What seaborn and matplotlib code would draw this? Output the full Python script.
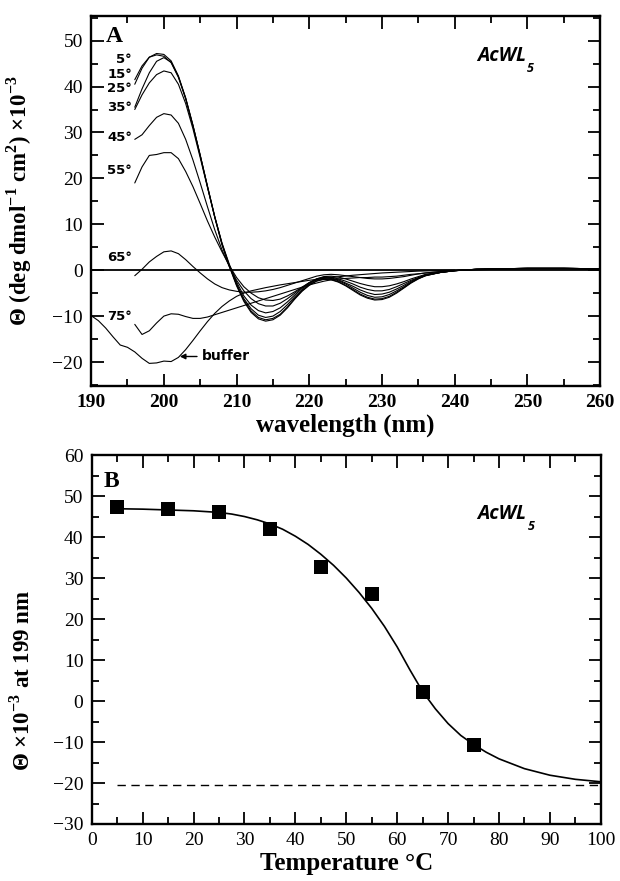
import numpy as np
import pandas as pd
import matplotlib
matplotlib.use("Agg")
import matplotlib.pyplot as plt
import seaborn as sns
from matplotlib.ticker import MultipleLocator

# ==== DATA: panel A, CD spectra at each temperature ====
wavelength = [196, 197, 198, 199, 200, 201, 202, 203, 204, 205, 206, 207, 208, 209, 210,
              211, 212, 213, 214, 215, 216, 217, 218, 219, 220, 221, 222, 223, 224, 225,
              226, 227, 228, 229, 230, 231, 232, 233, 234, 235, 236, 238, 240, 243, 246,
              250, 255, 260]

theta_5 = [40.5, 44.0, 46.4, 47.2, 47.0, 45.6, 42.3, 37.5, 31.5, 25.0, 18.2, 11.5, 5.5, 0.8, -3.4,
           -6.8, -9.2, -10.6, -11.1, -10.8, -9.8, -8.2, -6.3, -4.6, -3.3, -2.4, -2.0, -2.1, -2.6, -3.4,
           -4.4, -5.4, -6.1, -6.5, -6.4, -5.9, -5.0, -3.9, -2.8, -1.9, -1.2, -0.5, -0.1, 0.2, 0.3,
           0.4, 0.4, 0.3]
theta_15 = [41.5, 44.5, 46.4, 46.9, 46.6, 45.2, 42.0, 37.3, 31.4, 25.0, 18.3, 11.7, 5.7, 1.0, -3.2,
            -6.5, -8.9, -10.3, -10.8, -10.5, -9.6, -8.0, -6.1, -4.5, -3.2, -2.3, -1.9, -2.0, -2.5, -3.3,
            -4.2, -5.2, -5.9, -6.3, -6.2, -5.7, -4.8, -3.8, -2.7, -1.8, -1.2, -0.5, -0.1, 0.2, 0.3,
            0.4, 0.4, 0.3]
theta_25 = [35.5, 39.5, 43.0, 45.5, 46.3, 45.3, 42.2, 37.5, 31.6, 25.0, 18.2, 11.6, 5.7, 1.0, -3.0,
            -6.2, -8.4, -9.8, -10.3, -10.0, -9.0, -7.5, -5.8, -4.3, -3.0, -2.1, -1.7, -1.8, -2.3, -3.0,
            -3.9, -4.8, -5.5, -5.9, -5.8, -5.3, -4.5, -3.6, -2.6, -1.8, -1.1, -0.5, -0.1, 0.2, 0.3,
            0.4, 0.4, 0.3]
theta_35 = [35.0, 38.2, 40.8, 42.6, 43.4, 43.0, 40.5, 36.3, 30.8, 24.5, 18.0, 11.6, 5.9, 1.3, -2.6,
            -5.6, -7.6, -8.8, -9.3, -9.0, -8.2, -6.9, -5.4, -4.0, -2.8, -2.0, -1.6, -1.7, -2.1, -2.8,
            -3.5, -4.3, -4.9, -5.3, -5.2, -4.8, -4.1, -3.3, -2.4, -1.7, -1.1, -0.5, -0.1, 0.2, 0.3,
            0.4, 0.4, 0.3]
theta_45 = [28.5, 29.5, 31.5, 33.3, 34.1, 33.8, 32.0, 28.5, 24.0, 19.0, 13.8, 8.8, 4.4, 0.8, -2.2,
            -4.5, -6.2, -7.3, -7.8, -7.8, -7.2, -6.2, -5.0, -3.8, -2.7, -1.9, -1.5, -1.5, -1.9, -2.4,
            -3.0, -3.7, -4.2, -4.5, -4.5, -4.2, -3.6, -2.9, -2.2, -1.6, -1.0, -0.5, -0.1, 0.2, 0.3,
            0.4, 0.4, 0.3]
theta_55 = [19.0, 22.5, 25.0, 25.2, 25.6, 25.6, 24.3, 21.5, 18.2, 14.5, 10.7, 7.2, 4.0, 1.0, -1.6,
            -3.6, -5.0, -6.0, -6.5, -6.6, -6.3, -5.6, -4.7, -3.7, -2.7, -1.9, -1.4, -1.3, -1.5, -1.9,
            -2.4, -2.9, -3.3, -3.6, -3.6, -3.4, -3.0, -2.5, -1.9, -1.4, -0.9, -0.4, -0.1, 0.2, 0.3,
            0.4, 0.4, 0.3]
theta_65 = [-1.2, 0.2, 1.8, 3.0, 4.0, 4.2, 3.6, 2.3, 0.8, -0.6, -1.9, -3.0, -3.8, -4.3, -4.6,
            -4.8, -4.8, -4.7, -4.5, -4.2, -3.8, -3.3, -2.8, -2.3, -1.8, -1.3, -1.0, -0.9, -1.0, -1.2,
            -1.4, -1.6, -1.8, -1.9, -1.9, -1.8, -1.6, -1.4, -1.1, -0.8, -0.6, -0.3, -0.1, 0.1, 0.2,
            0.3, 0.3, 0.2]
theta_75 = [-11.8, -14.0, -13.2, -11.5, -10.0, -9.5, -9.6, -10.1, -10.5, -10.5, -10.2, -9.7, -9.2, -8.7, -8.2,
            -7.7, -7.2, -6.7, -6.2, -5.7, -5.2, -4.7, -4.2, -3.7, -3.2, -2.8, -2.4, -2.1, -1.9, -1.8,
            -1.7, -1.6, -1.6, -1.5, -1.5, -1.4, -1.3, -1.1, -0.9, -0.8, -0.6, -0.3, -0.1, 0.1, 0.2,
            0.3, 0.3, 0.2]

temps = [5, 15, 25, 35, 45, 55, 65, 75]
spectra = [theta_5, theta_15, theta_25, theta_35, theta_45, theta_55, theta_65, theta_75]

buffer_wl = [190, 191, 192, 193, 194, 195, 196, 197, 198, 199, 200, 201, 202, 203, 204,
             205, 206, 207, 208, 209, 210, 211, 212, 214, 216, 218, 220, 223, 226, 230,
             235, 240]
buffer_theta = [-9.9, -11.0, -12.6, -14.5, -16.3, -16.8, -17.8, -19.2, -20.3, -20.2, -19.8, -19.9, -19.0, -17.3, -15.3,
                -13.2, -11.2, -9.4, -7.9, -6.7, -5.7, -5.0, -4.5, -3.8, -3.2, -2.7, -2.2, -1.6, -1.1, -0.6,
                -0.2, 0.0]

# labels beside the curves
temp_labels = ["5°", "15°", "25°", "35°", "45°", "55°", "65°", "75°"]
label_y = [45.9, 42.6, 39.6, 35.4, 28.9, 21.7, 2.8, -10.0]

# ==== DATA: panel B, melting curve at 199 nm ====
melt_T = [5, 15, 25, 35, 45, 55, 65, 75]
melt_theta = [47.3, 46.8, 46.0, 42.0, 32.8, 26.0, 2.2, -10.7]

fit_T = [5, 10, 15, 20, 25, 27.5, 30, 32.5, 35, 37.5, 40, 42.5, 45, 47.5, 50, 52.5, 55, 57.5,
         60, 62.5, 65, 67.5, 70, 72.5, 75, 77.5, 80, 85, 90, 95, 100]
fit_theta = [46.9, 46.8, 46.6, 46.4, 46.0, 45.6, 45.0, 44.2, 43.2, 41.9, 40.2, 38.2, 35.8, 33.1, 30.0, 26.5, 22.6, 18.2,
             13.2, 7.6, 2.3, -1.9, -5.5, -8.4, -10.6, -12.5, -14.1, -16.5, -18.1, -19.1, -19.7]

unfolded_level = -20.5

# ==== BUILD TABLES ====
spec_df = pd.DataFrame({
    "wavelength": np.tile(wavelength, len(temps)),
    "theta": np.concatenate(spectra),
    "temp": np.repeat(temps, len(wavelength)),
})
buf_df = pd.DataFrame({"wavelength": buffer_wl, "theta": buffer_theta})
pts_df = pd.DataFrame({"T": melt_T, "theta": melt_theta})
fit_df = pd.DataFrame({"T": fit_T, "theta": fit_theta})

# ==== STYLE ====
sns.set_style("ticks")
plt.rcParams["font.family"] = ["Liberation Serif", "DejaVu Serif"]
plt.rcParams["mathtext.fontset"] = "custom"
plt.rcParams["mathtext.rm"] = "Liberation Serif"
plt.rcParams["mathtext.bf"] = "Liberation Serif:bold"
for key in ["text.color", "axes.labelcolor", "xtick.color", "ytick.color"]:
    plt.rcParams[key] = "black"

fig = plt.figure(figsize=(6.2, 8.81), dpi=100)
axA = fig.add_axes([0.147, 0.562, 0.821, 0.420])
axB = fig.add_axes([0.148, 0.0647, 0.821, 0.4188])

def style_axes(ax):
    for s in ax.spines.values():
        s.set_linewidth(1.7)
        s.set_color("black")
    ax.tick_params(which="both", direction="in", top=True, right=True, width=1.3,
                   labelsize=14, colors="black", pad=6)
    ax.tick_params(which="major", length=9)
    ax.tick_params(which="minor", length=5)

def tag(ax, x, y):
    # AcWL with subscript 5
    t = ax.text(x, y, "AcWL", ha="left", va="center", fontsize=14, fontweight="bold",
                fontstyle="italic", family=["Open Sans", "DejaVu Sans"])
    ax.annotate("5", xy=(1, 0), xycoords=t, xytext=(0.5, -2), textcoords="offset points",
                ha="left", va="center", fontsize=9, fontweight="bold", fontstyle="italic",
                family=["Open Sans", "DejaVu Sans"])

# ==== PANEL A ====
sns.lineplot(data=spec_df, x="wavelength", y="theta", units="temp", estimator=None,
             color="black", lw=0.8, sort=False, ax=axA)
sns.lineplot(data=buf_df, x="wavelength", y="theta", color="black", lw=0.8, sort=False, ax=axA)
axA.axhline(0, color="black", lw=1.3)
axA.set_xlim(190, 260)
axA.set_ylim(-25.2, 55.4)
axA.xaxis.set_major_locator(MultipleLocator(10))
axA.xaxis.set_minor_locator(MultipleLocator(5))
axA.yaxis.set_major_locator(MultipleLocator(10))
axA.yaxis.set_minor_locator(MultipleLocator(5))
style_axes(axA)
for t in axA.get_xticklabels():
    t.set_fontweight("bold")
axA.set_xlabel("wavelength (nm)", fontsize=18, fontweight="bold", labelpad=2)
axA.set_ylabel(r"Θ (deg dmol$^{\mathbf{-1}}$ cm$^{\mathbf{2}}$) ×10$^{\mathbf{-3}}$",
               fontsize=16.5, fontweight="bold")
axA.yaxis.set_label_coords(-0.112, 0.50)

for lab, yv in zip(temp_labels, label_y):
    axA.text(195.6, yv, lab, ha="right", va="center", fontsize=9.5, fontweight="bold",
             family=["DejaVu Sans"])
axA.text(192.0, 50.8, "A", ha="left", va="center", fontsize=17, fontweight="bold")
tag(axA, 243.1, 46.7)
axA.annotate("buffer", xy=(202.2, -18.8), xytext=(205.2, -18.8), ha="left", va="center",
             fontsize=10, fontweight="bold", family=["DejaVu Sans"],
             arrowprops=dict(arrowstyle="-|>", color="black", lw=1.0,
                             shrinkA=1, shrinkB=0, mutation_scale=8))

# ==== PANEL B ====
sns.lineplot(data=fit_df, x="T", y="theta", color="black", lw=1.2, ax=axB)
axB.plot([5, 100], [unfolded_level, unfolded_level], color="black", lw=1.0,
         dashes=(6, 4))
sns.scatterplot(data=pts_df, x="T", y="theta", marker="s", s=110, color="black",
                edgecolor="black", linewidth=0, ax=axB, zorder=5)
axB.set_xlim(0, 100)
axB.set_ylim(-30, 60)
axB.xaxis.set_major_locator(MultipleLocator(10))
axB.xaxis.set_minor_locator(MultipleLocator(5))
axB.yaxis.set_major_locator(MultipleLocator(10))
axB.yaxis.set_minor_locator(MultipleLocator(5))
style_axes(axB)
axB.set_xlabel("Temperature °C", fontsize=18, fontweight="bold", labelpad=2)
axB.set_ylabel(r"Θ ×10$^{\mathbf{-3}}$ at 199 nm", fontsize=16.5, fontweight="bold")
axB.yaxis.set_label_coords(-0.112, 0.39)

axB.text(2.4, 53.5, "B", ha="left", va="center", fontsize=17, fontweight="bold")
tag(axB, 75.8, 45.7)

fig.savefig("out.png", dpi=100)
